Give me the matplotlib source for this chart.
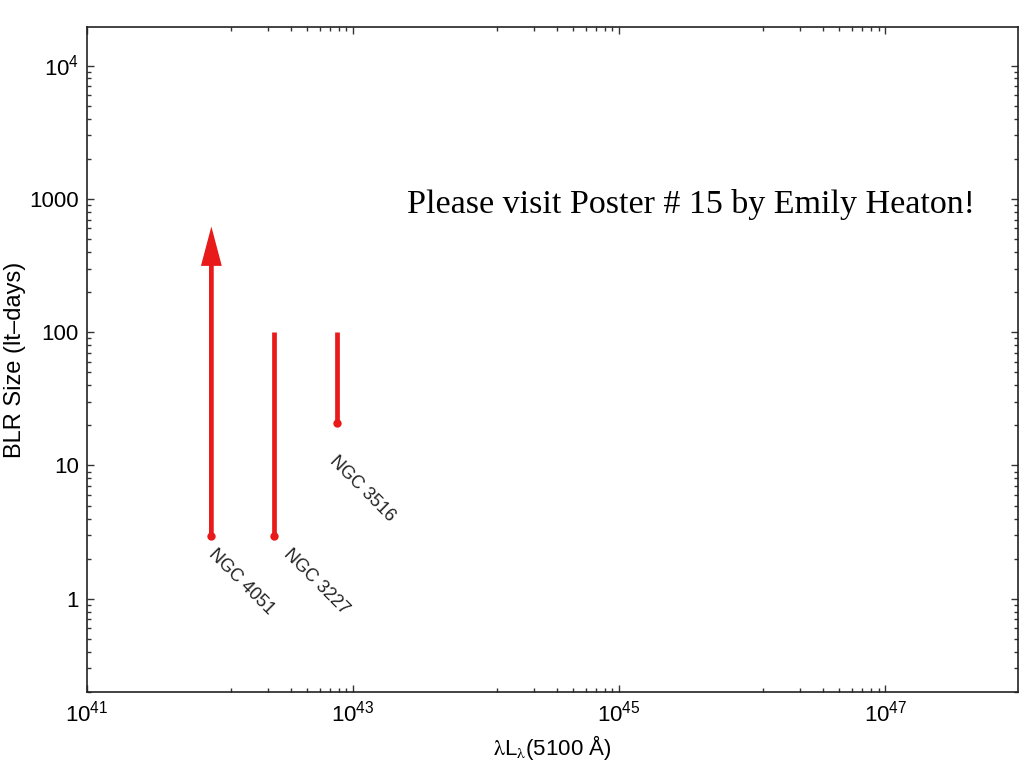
import numpy as np
import matplotlib
matplotlib.use('Agg')
import matplotlib.pyplot as plt
from matplotlib.ticker import FixedLocator, FixedFormatter, NullFormatter, LogLocator

plt.rcParams['font.family'] = ['Liberation Sans', 'DejaVu Sans']

# BLR size ranges for the three AGN (lt-days) vs 5100 A luminosity
names = ['NGC 4051', 'NGC 3227', 'NGC 3516']
lum_5100 = [8.6e41, 2.55e42, 7.6e42]
r_low = [2.95, 2.95, 20.7]
r_high = [620, 100, 100]
is_lower_limit = [True, False, False]

x_major = [1e41, 1e43, 1e45, 1e47]
x_major_labels = [r'$\mathregular{10^{41}}$', r'$\mathregular{10^{43}}$',
                  r'$\mathregular{10^{45}}$', r'$\mathregular{10^{47}}$']
y_major = [1, 10, 100, 1000, 1e4]
y_major_labels = ['1', '10', '100', '1000', r'$\mathregular{10^{4}}$']

# label offsets (points) from the lower end of each bar
label_offsets = [(4, -7), (13, -7), (1, -21)]

red = '#e81a1a'

fig = plt.figure(figsize=(10.24, 7.68), dpi=100)
ax = fig.add_axes([0.085, 0.099, 0.9095, 0.866])
ax.set_xscale('log')
ax.set_yscale('log')
ax.set_xlim(1e41, 1e48)
ax.set_ylim(0.2, 1.95e4)

for x, lo, hi, up, name, off in zip(lum_5100, r_low, r_high, is_lower_limit, names, label_offsets):
    if up:
        ax.annotate('', xy=(x, hi), xytext=(x, lo),
                    arrowprops=dict(arrowstyle='-|>,head_length=20,head_width=5.3',
                                    mutation_scale=1, color=red, lw=3.4,
                                    joinstyle='miter', capstyle='butt',
                                    shrinkA=0, shrinkB=0))
    else:
        ax.plot([x, x], [lo, hi], color=red, lw=3.4, solid_capstyle='butt')
    ax.plot([x], [lo], 'o', color=red, markersize=6, markeredgewidth=0)
    ax.annotate(name, xy=(x, lo), xytext=off, textcoords='offset points',
                rotation=-45, rotation_mode='anchor', ha='left', va='top',
                fontsize=13, color='#222222')

# x ticks: majors every two decades, minors split each interval linearly in 9
x_minor = []
for a, b in zip(x_major, x_major[1:] + [1e49]):
    for k in range(1, 9):
        v = a + k * (b - a) / 9
        if v < 1e48:
            x_minor.append(v)
ax.xaxis.set_major_locator(FixedLocator(x_major))
ax.xaxis.set_major_formatter(FixedFormatter(x_major_labels))
ax.xaxis.set_minor_locator(FixedLocator(x_minor))
ax.xaxis.set_minor_formatter(NullFormatter())

ax.yaxis.set_major_locator(FixedLocator(y_major))
ax.yaxis.set_major_formatter(FixedFormatter(y_major_labels))
ax.yaxis.set_minor_locator(LogLocator(base=10, subs=np.arange(2, 10), numticks=20))
ax.yaxis.set_minor_formatter(NullFormatter())

ax.tick_params(which='both', direction='in', top=True, right=True, color='#333333')
ax.tick_params(which='major', length=5, width=1, labelsize=16)
ax.tick_params(which='minor', length=3, width=1)
ax.tick_params(axis='x', which='major', pad=6)
ax.tick_params(axis='y', which='major', pad=6)
for s in ax.spines.values():
    s.set_linewidth(1.2)
    s.set_color('#222222')

ax.set_xlabel(r'$\mathrm{\lambda}$L$_{\mathrm{\lambda}}$(5100 Å)', fontsize=16, labelpad=5,
              math_fontfamily='stix')
ax.set_ylabel('BLR Size (lt\u2013days)', fontsize=17, labelpad=2)

ax.text(0.6488, 0.720, 'Please visit Poster # 15 by Emily Heaton!',
        transform=ax.transAxes, ha='center', va='baseline',
        family='Liberation Serif', fontsize=24.5)

plt.savefig('out.png', dpi=100)
